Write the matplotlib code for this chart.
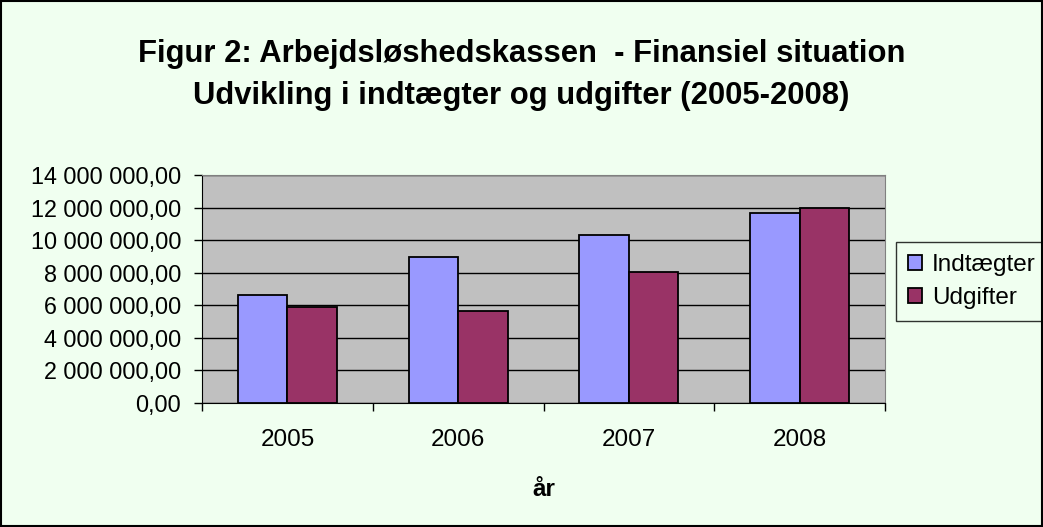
import numpy as np
import matplotlib.pyplot as plt
from matplotlib.patches import Rectangle
from matplotlib.ticker import FuncFormatter, FixedLocator

plt.rcParams['font.family'] = ['Liberation Sans', 'DejaVu Sans']

years = ['2005', '2006', '2007', '2008']
indtaegter = [6600000, 8950000, 10300000, 11650000]
udgifter = [5870000, 5620000, 8070000, 12000000]

fig = plt.figure(figsize=(10.43, 5.27), dpi=100, facecolor='#F0FFF0')
ax = fig.add_axes([0.1937, 0.2353, 0.6548, 0.4327])
ax.set_facecolor('#C0C0C0')

x = np.arange(len(years))
w = 0.29
ax.bar(x - w / 2, indtaegter, w, color='#9999FF', edgecolor='black', linewidth=1.3, label='Indtægter', zorder=3)
ax.bar(x + w / 2, udgifter, w, color='#993366', edgecolor='black', linewidth=1.3, label='Udgifter', zorder=3)

ax.set_xlim(-0.5, len(years) - 0.5)
ax.set_ylim(0, 14000000)
ax.set_yticks(np.arange(0, 14000001, 2000000))
ax.yaxis.set_major_formatter(FuncFormatter(lambda v, p: f"{v:,.2f}".replace(",", " ").replace(".", ",")))
ax.grid(axis='y', color='black', linewidth=1, zorder=1)

ax.set_xticks(x)
ax.set_xticklabels(years)
ax.xaxis.set_minor_locator(FixedLocator(np.arange(-0.5, len(years), 1)))
ax.tick_params(axis='x', which='major', length=0, labelsize=17.5, pad=19)
ax.tick_params(axis='x', which='minor', length=6, width=1, color='black')
ax.tick_params(axis='y', length=6, width=1, labelsize=16.8, pad=9)

for s in ['top', 'right']:
    ax.spines[s].set_color('#808080')
for s in ['left', 'bottom']:
    ax.spines[s].set_color('black')

ax.set_xlabel('år', fontsize=17.5, fontweight='bold', labelpad=19)

fig.text(0.5, 0.858, 'Figur 2: Arbejdsløshedskassen  - Finansiel situation\nUdvikling i indtægter og udgifter (2005-2008)',
         ha='center', va='center', fontsize=22.3, fontweight='bold', linespacing=1.5)

leg = ax.legend(loc='upper left', bbox_to_anchor=(895.5 / 1043, 1 - 241.7 / 527), bbox_transform=fig.transFigure,
                fontsize=17.5, frameon=True, fancybox=False, edgecolor='black', facecolor='#F0FFF0',
                handlelength=0.6, handleheight=0.6, handletextpad=0.4, borderpad=0.5, labelspacing=0.45,
                borderaxespad=0)
leg.get_frame().set_linewidth(1)

fig.patches.append(Rectangle((0.001, 0.001), 0.998, 0.997, transform=fig.transFigure,
                             fill=False, edgecolor='black', linewidth=1.5))

fig.savefig('out.png', dpi=100, facecolor=fig.get_facecolor())
